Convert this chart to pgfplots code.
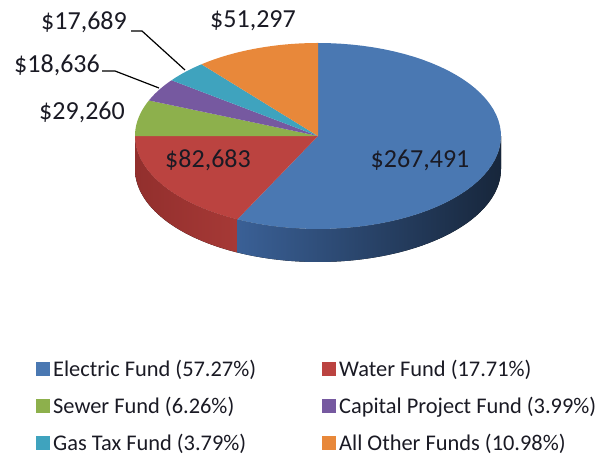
\documentclass[border=0pt]{standalone}
\usepackage{pgfplots}
\pgfplotsset{compat=1.18}
\usepgfplotslibrary{fillbetween}
\usepackage{fontspec}
\setmainfont{Carlito}

% Fund values
\def\vA{267491}% Electric
\def\vB{82683}%  Water
\def\vC{29260}%  Sewer
\def\vD{18636}%  Capital Project
\def\vE{17689}%  Gas Tax
\def\vF{51297}%  All Other
\edef\T{\fpeval{\vA+\vB+\vC+\vD+\vE+\vF}}
\edef\aO{90}
\edef\aA{\fpeval{\aO-360*\vA/\T}}
\edef\aB{\fpeval{\aA-360*\vB/\T}}
\edef\aC{\fpeval{\aB-360*\vC/\T}}
\edef\aD{\fpeval{\aC-360*\vD/\T}}
\edef\aE{\fpeval{\aD-360*\vE/\T}}
\edef\aF{\fpeval{\aE-360*\vF/\T}}

\definecolor{cElec}{HTML}{4A78B2}
\definecolor{cWater}{HTML}{BB4340}
\definecolor{cSewer}{HTML}{8DB04C}
\definecolor{cCap}{HTML}{7659A0}
\definecolor{cGas}{HTML}{3FA3BE}
\definecolor{cOther}{HTML}{E8883A}
\definecolor{sElecL}{HTML}{3A6096}
\definecolor{sElecR}{HTML}{17263B}
\definecolor{sWaterL}{HTML}{922F2D}
\definecolor{sWaterR}{HTML}{A63936}
\definecolor{txt}{HTML}{1A1A24}

\def\cx{318}\def\cy{136}\def\rx{183}\def\ry{93}\def\dep{33}

\begin{document}
\begin{tikzpicture}
\begin{axis}[
  hide axis, scale only axis, width=610bp, height=466bp,
  xmin=0, xmax=610, ymin=0, ymax=466, y dir=reverse, clip=false,
  samples=60,
  legend columns=2,
  legend cell align=left,
  legend image code/.code={\fill[#1] (0bp,-7bp) rectangle (14bp,7bp);},
  legend style={at={(axis cs:33,356)}, anchor=north west, draw=none, fill=none,
    font=\fontsize{22.4bp}{26bp}\selectfont, text=txt, row sep=15bp,
    /tikz/every odd column/.append style={column sep=1bp},
    /tikz/every even column/.append style={column sep=64bp}},
]
% side walls (front half)
\addplot[name path=wt, draw=none, forget plot, domain=\aB:\aA] ({\cx+\rx*cos(x)},{\cy-\ry*sin(x)});
\addplot[name path=wb, draw=none, forget plot, domain=\aB:\aA] ({\cx+\rx*cos(x)},{\cy-\ry*sin(x)+\dep});
\addplot[left color=sWaterL, right color=sWaterR, forget plot] fill between[of=wt and wb];
\addplot[name path=et, draw=none, forget plot, domain=\aA:0] ({\cx+\rx*cos(x)},{\cy-\ry*sin(x)});
\addplot[name path=eb, draw=none, forget plot, domain=\aA:0] ({\cx+\rx*cos(x)},{\cy-\ry*sin(x)+\dep});
\addplot[left color=sElecL, right color=sElecR, forget plot] fill between[of=et and eb];
% top faces
\addplot[fill=cElec, draw=none, domain=\aA:\aO] ({\cx+\rx*cos(x)},{\cy-\ry*sin(x)}) -- (axis cs:\cx,\cy) -- cycle;
\addlegendentry{Electric Fund (57.27\%)}
\addplot[fill=cWater, draw=none, domain=\aB:\aA] ({\cx+\rx*cos(x)},{\cy-\ry*sin(x)}) -- (axis cs:\cx,\cy) -- cycle;
\addlegendentry{Water Fund (17.71\%)}
\addplot[fill=cSewer, draw=none, domain=\aC:\aB] ({\cx+\rx*cos(x)},{\cy-\ry*sin(x)}) -- (axis cs:\cx,\cy) -- cycle;
\addlegendentry{Sewer Fund (6.26\%)}
\addplot[fill=cCap, draw=none, domain=\aD:\aC] ({\cx+\rx*cos(x)},{\cy-\ry*sin(x)}) -- (axis cs:\cx,\cy) -- cycle;
\addlegendentry{Capital Project Fund (3.99\%)}
\addplot[fill=cGas, draw=none, domain=\aE:\aD] ({\cx+\rx*cos(x)},{\cy-\ry*sin(x)}) -- (axis cs:\cx,\cy) -- cycle;
\addlegendentry{Gas Tax Fund (3.79\%)}
\addplot[fill=cOther, draw=none, domain=\aF:\aE] ({\cx+\rx*cos(x)},{\cy-\ry*sin(x)}) -- (axis cs:\cx,\cy) -- cycle;
\addlegendentry{All Other Funds (10.98\%)}
% leader lines
\addplot[black, line width=1.2pt, forget plot] coordinates {(131,31) (142,31) (185,70)};
\addplot[black, line width=1.2pt, forget plot] coordinates {(102,71) (115,71) (159,88)};
% labels
\begin{scope}[every node/.style={font=\fontsize{26bp}{30bp}\selectfont, text=txt, inner sep=0pt}]
\node at (axis cs:420,160) {\$267,491};
\node at (axis cs:208,160) {\$82,683};
\node at (axis cs:253,21) {\$51,297};
\node at (axis cs:84,22) {\$17,689};
\node at (axis cs:57,65) {\$18,636};
\node at (axis cs:82,112) {\$29,260};
\end{scope}
\end{axis}
\pgfresetboundingbox
\path[use as bounding box] (current axis.south west) rectangle (current axis.north east);
\end{tikzpicture}
\end{document}
